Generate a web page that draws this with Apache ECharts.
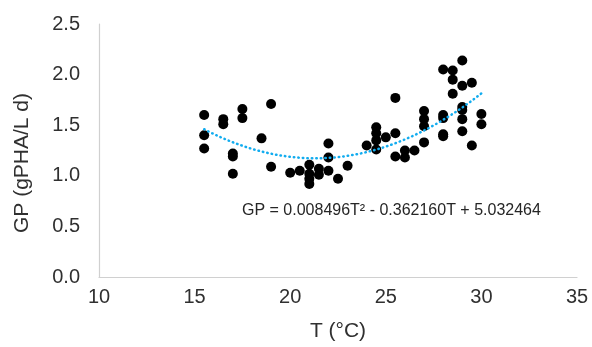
<!DOCTYPE html>
<html>
<head>
<meta charset="utf-8">
<script src="https://cdn.jsdelivr.net/npm/echarts@6/dist/echarts.min.js"></script>
<style>html,body{margin:0;padding:0;background:#fff}#c{width:592px;height:347px}</style>
</head>
<body>
<div id="c"></div>
<script>
// Data
var T_VALUES = [15.5,15.5,15.5,16.5,16.5,17.0,17.0,17.0,17.5,17.5,18.5,19.0,19.0,20.0,20.5,21.0,21.0,21.0,21.0,21.5,21.5,22.0,22.0,22.0,22.5,23.0,24.0,24.5,24.5,24.5,24.5,25.0,25.5,25.5,25.5,26.0,26.0,26.5,27.0,27.0,27.0,27.0,28.0,28.0,28.0,28.0,28.0,28.5,28.5,28.5,29.0,29.0,29.0,29.0,29.0,29.0,29.5,29.5,30.0,30.0];
var GP_VALUES = [1.60,1.40,1.27,1.56,1.51,1.22,1.19,1.02,1.66,1.57,1.37,1.71,1.09,1.03,1.05,1.11,1.02,0.97,0.92,1.07,1.01,1.32,1.18,1.05,0.97,1.10,1.30,1.48,1.42,1.35,1.26,1.38,1.77,1.42,1.19,1.25,1.18,1.25,1.64,1.56,1.49,1.33,2.05,1.60,1.57,1.41,1.39,2.04,1.95,1.81,2.14,1.89,1.68,1.65,1.56,1.44,1.92,1.30,1.61,1.51];
// Polynomial trendline as printed on the chart: GP = a*T^2 + b*T + c
var TREND_COEF = [0.008496, -0.362160, 5.032464];
var TREND_RANGE = [15.5, 30.0];
var X_TICKS = [10, 15, 20, 25, 30, 35];
var Y_TICKS = [0.0, 0.5, 1.0, 1.5, 2.0, 2.5];
var EQUATION = 'GP = 0.008496T\u00B2 - 0.362160T + 5.032464';
var X_TITLE = 'T (\u00B0C)';
var Y_TITLE = 'GP (gPHA/L d)';

var scatterData = T_VALUES.map(function (t, i) { return [t, GP_VALUES[i]]; });
var trendData = [];
for (var k = 0; k <= 145; k++) {
  var t = TREND_RANGE[0] + (TREND_RANGE[1] - TREND_RANGE[0]) * k / 145;
  trendData.push([t, TREND_COEF[0] * t * t + TREND_COEF[1] * t + TREND_COEF[2]]);
}

var FONT = '"Liberation Sans", Arial, sans-serif';
var TXT = '#303030';
var chart = echarts.init(document.getElementById('c'), null, {renderer: 'canvas'});
chart.setOption({
  animation: false,
  backgroundColor: '#ffffff',
  grid: {left: 99, right: 15, top: 24, bottom: 69, containLabel: false},
  xAxis: {
    type: 'value', min: X_TICKS[0], max: X_TICKS[X_TICKS.length - 1], interval: 5,
    name: X_TITLE, nameLocation: 'middle', nameGap: 44,
    nameTextStyle: {fontFamily: FONT, fontSize: 21, color: TXT},
    axisLine: {show: true, lineStyle: {color: '#D0D0D0', width: 1.2}},
    axisTick: {show: false},
    splitLine: {show: false},
    axisLabel: {fontFamily: FONT, fontSize: 20, color: TXT, margin: 10}
  },
  yAxis: {
    type: 'value', min: Y_TICKS[0], max: Y_TICKS[Y_TICKS.length - 1], interval: 0.5,
    axisLine: {show: true, lineStyle: {color: '#D0D0D0', width: 1.2}},
    axisTick: {show: false},
    splitLine: {show: false},
    axisLabel: {fontFamily: FONT, fontSize: 20, color: TXT, margin: 19,
      formatter: function (v) { return v.toFixed(1); }}
  },
  graphic: [
    {type: 'text', x: 22, y: 163, rotation: Math.PI / 2,
      style: {text: Y_TITLE, font: '21px ' + FONT, fill: TXT, textAlign: 'center', textVerticalAlign: 'middle'}},
    {type: 'text', x: 242, y: 211,
      style: {text: EQUATION, font: '16px ' + FONT, fill: '#262626', textAlign: 'left', textVerticalAlign: 'middle'}}
  ],
  series: [
    {type: 'scatter', data: scatterData, symbol: 'circle', symbolSize: 10,
      itemStyle: {color: '#000000', opacity: 1}, z: 2},
    {type: 'line', data: trendData, showSymbol: false, symbol: 'none', smooth: false,
      lineStyle: {color: '#12ACEF', width: 2.5, type: [0.5, 4], cap: 'round'}, z: 3}
  ]
});
</script>
</body>
</html>
